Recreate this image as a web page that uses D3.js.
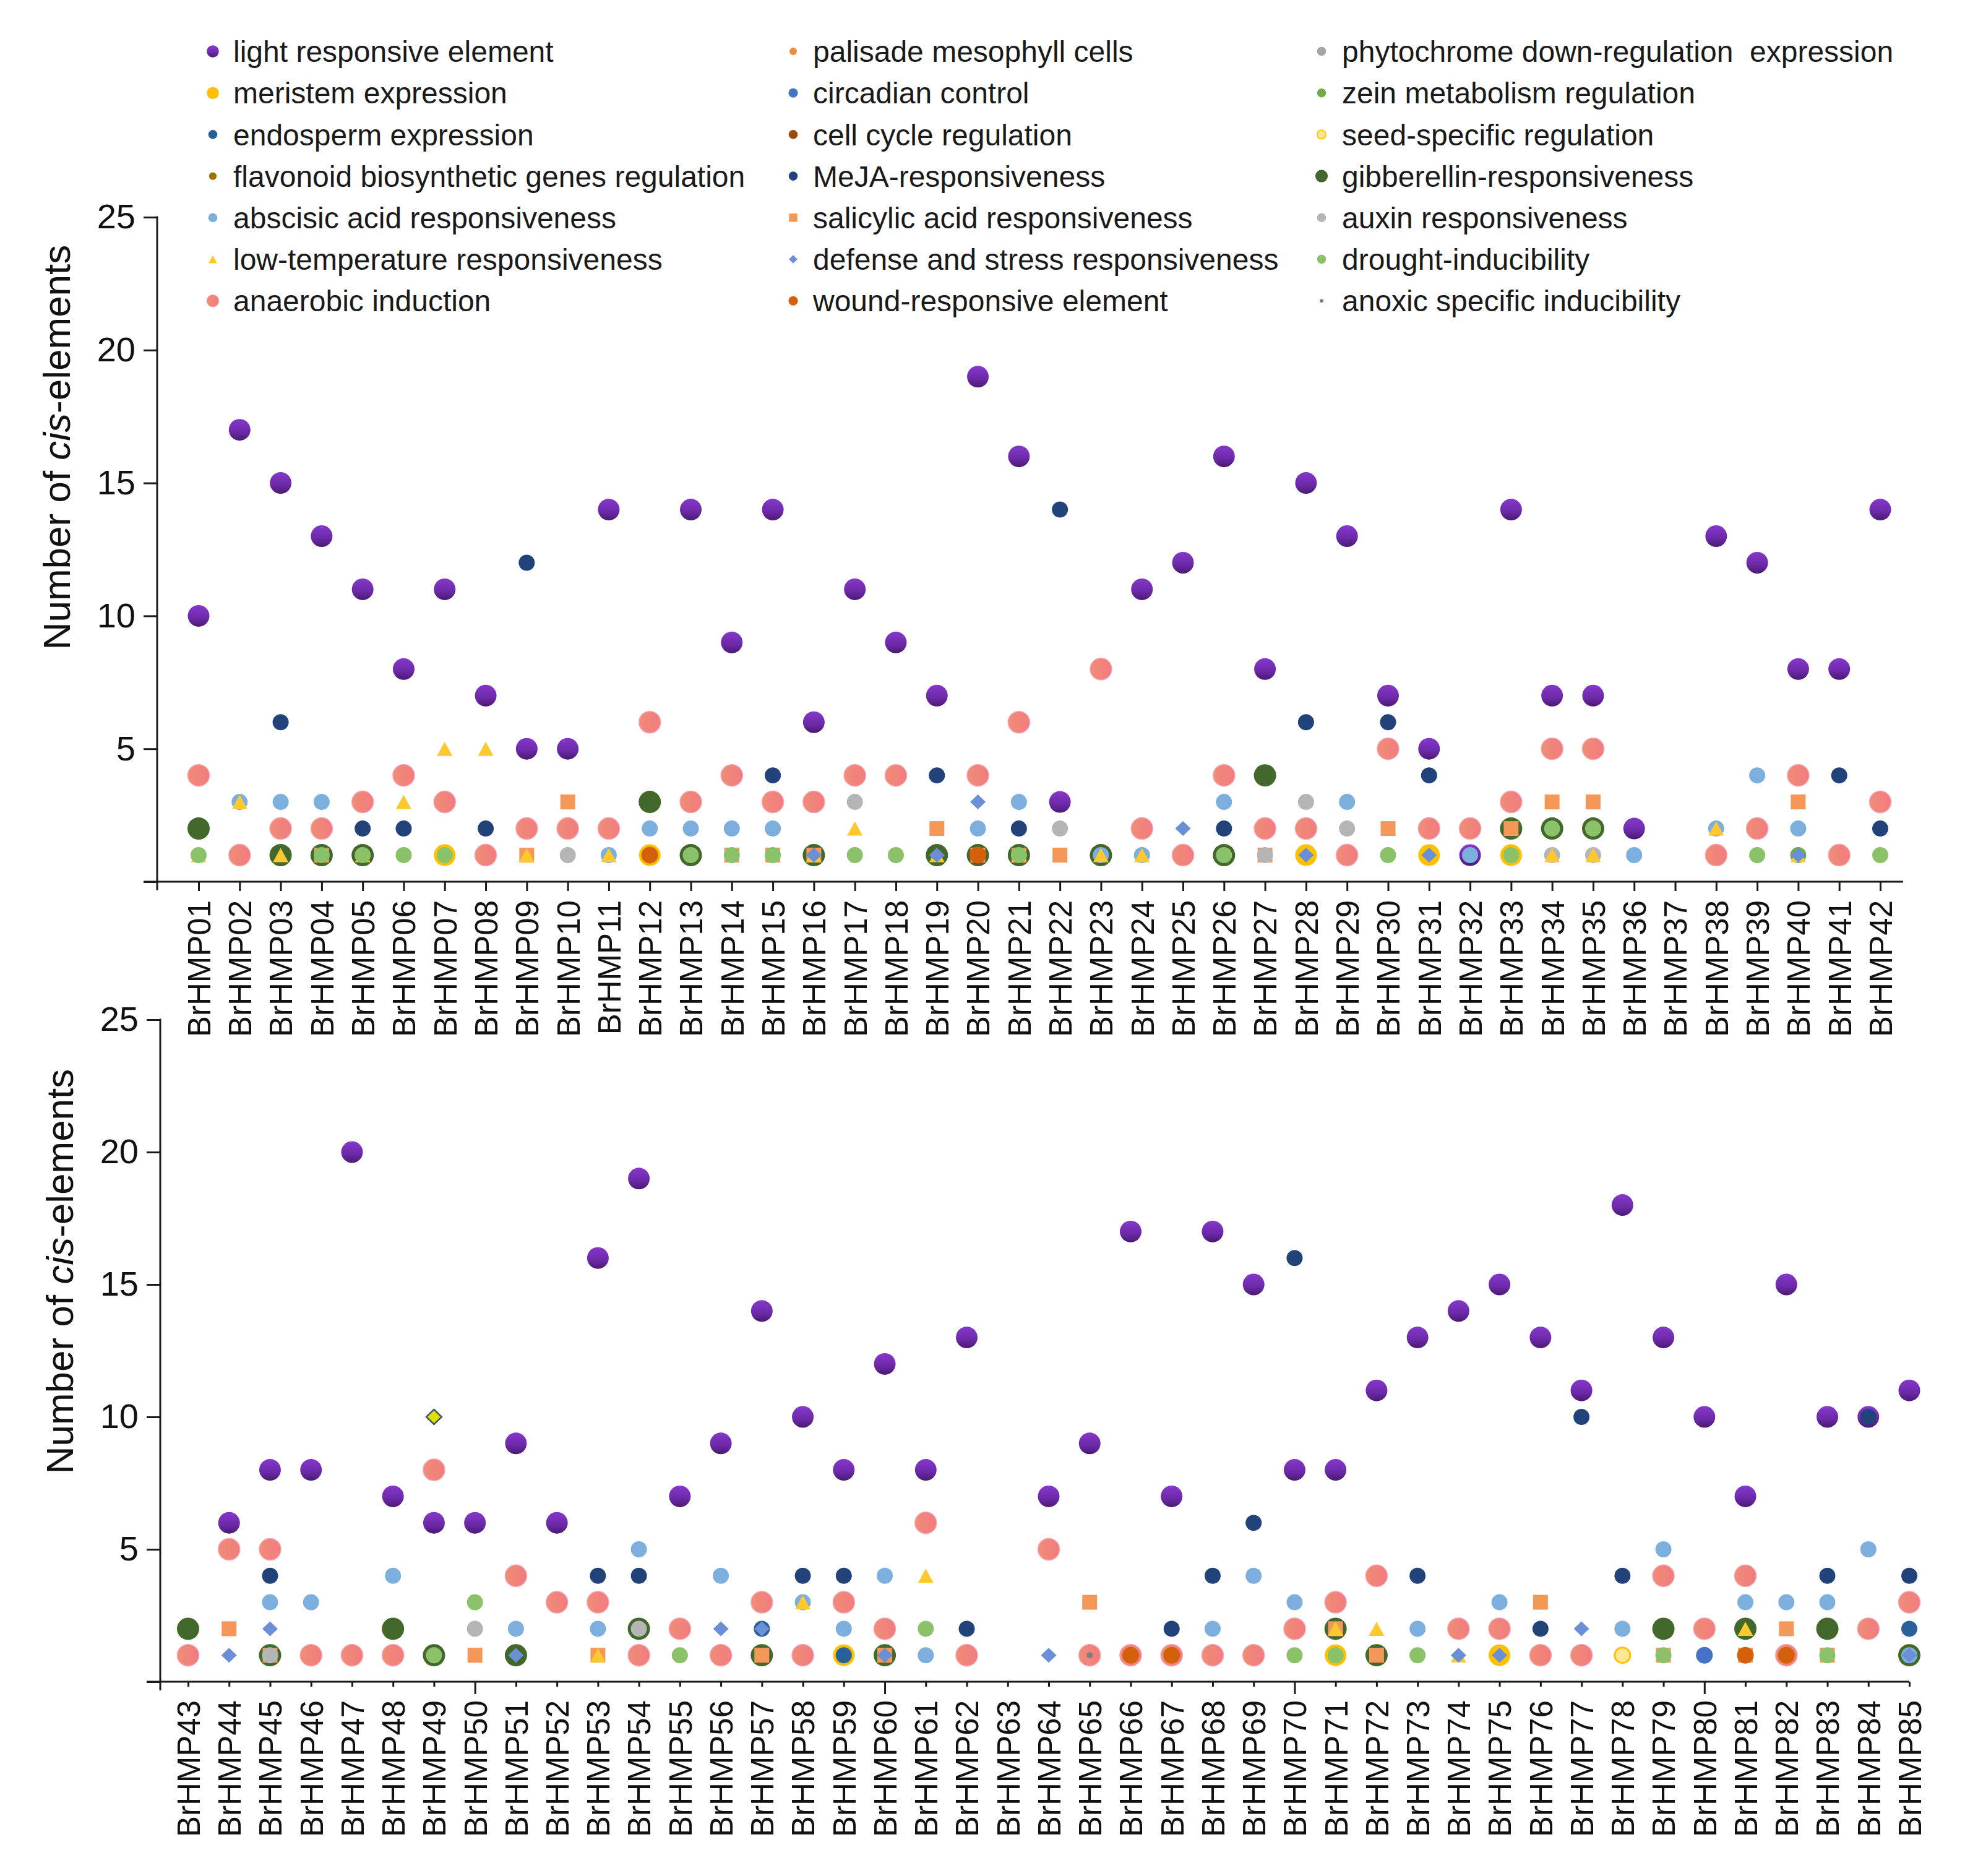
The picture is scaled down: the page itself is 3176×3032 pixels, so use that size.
<!DOCTYPE html>
<html>
<head>
<meta charset="utf-8">
<script src="https://cdn.jsdelivr.net/npm/d3@7/dist/d3.min.js"></script>
<style>
  body { margin: 0; background: #fff; }
  text { font-family: "Liberation Sans", Arial, sans-serif; }
</style>
</head>
<body>
<svg id="chart"></svg>
<script>
const _ = null;

// gene labels, one panel each
const topGenes = ["BrHMP01","BrHMP02","BrHMP03","BrHMP04","BrHMP05","BrHMP06","BrHMP07","BrHMP08","BrHMP09","BrHMP10",
  "BrHMP11","BrHMP12","BrHMP13","BrHMP14","BrHMP15","BrHMP16","BrHMP17","BrHMP18","BrHMP19","BrHMP20",
  "BrHMP21","BrHMP22","BrHMP23","BrHMP24","BrHMP25","BrHMP26","BrHMP27","BrHMP28","BrHMP29","BrHMP30",
  "BrHMP31","BrHMP32","BrHMP33","BrHMP34","BrHMP35","BrHMP36","BrHMP37","BrHMP38","BrHMP39","BrHMP40",
  "BrHMP41","BrHMP42"];
const bottomGenes = ["BrHMP43","BrHMP44","BrHMP45","BrHMP46","BrHMP47","BrHMP48","BrHMP49","BrHMP50",
  "BrHMP51","BrHMP52","BrHMP53","BrHMP54","BrHMP55","BrHMP56","BrHMP57","BrHMP58","BrHMP59","BrHMP60",
  "BrHMP61","BrHMP62","BrHMP63","BrHMP64","BrHMP65","BrHMP66","BrHMP67","BrHMP68","BrHMP69","BrHMP70",
  "BrHMP71","BrHMP72","BrHMP73","BrHMP74","BrHMP75","BrHMP76","BrHMP77","BrHMP78","BrHMP79","BrHMP80",
  "BrHMP81","BrHMP82","BrHMP83","BrHMP84","BrHMP85"];
const yTicks = [0, 5, 10, 15, 20, 25];

// number of cis-elements per gene (BrHMP01 .. BrHMP85), one array per element class
const lightResponsive = [
  10,17,15,13,11,8,11,7,5,5,  14,6,14,9,14,6,11,9,7,19,  16,3,8,11,12,16,8,15,13,7,
  5,1,14,7,7,2,_,13,12,8,  8,14,_,6,8,8,20,7,6,6,  9,6,16,19,7,9,14,10,8,12,
  8,13,_,7,9,17,7,17,15,8,  8,11,13,14,15,13,11,18,13,10,  7,15,10,10,11];
const palisade = [
  _,_,_,_,_,_,_,_,_,_,  _,1,_,_,_,_,_,_,_,_,  _,_,_,_,_,_,_,_,_,_,
  _,_,_,_,_,_,_,_,_,_,  _,_,_,_,_,_,_,_,_,_,  _,_,_,_,_,_,_,_,_,_,
  _,_,_,_,_,_,_,_,_,_,  _,_,_,_,_,_,_,_,_,_,  _,_,_,_,_];
const phytochrome = [
  _,_,_,_,_,_,_,_,_,_,  _,_,_,_,_,_,_,_,_,_,  _,_,_,_,_,_,_,_,_,_,
  _,_,_,_,_,_,_,_,_,_,  _,_,_,_,_,_,_,_,_,_,  _,_,_,_,_,_,_,_,_,_,
  _,_,_,_,_,_,_,_,_,_,  _,_,_,_,_,_,_,_,_,_,  _,_,_,_,_];
const meristem = [
  _,_,_,_,_,_,1,_,_,_,  _,1,_,_,_,_,_,_,_,_,  _,_,_,_,_,_,_,1,_,_,
  1,_,1,_,_,_,_,_,_,_,  _,_,_,_,_,_,_,_,_,_,  _,_,_,_,_,_,_,_,1,_,
  _,_,_,_,_,_,_,_,_,_,  1,_,_,_,1,_,_,_,_,_,  _,_,_,_,_];
const circadian = [
  _,_,_,_,_,_,_,_,_,_,  _,_,_,_,_,_,_,_,_,_,  _,_,_,_,_,_,_,_,_,_,
  _,_,_,_,_,_,_,_,_,_,  _,_,_,_,_,_,_,_,_,_,  _,_,_,_,_,_,_,_,_,_,
  _,_,_,_,_,_,_,_,_,_,  _,_,_,_,_,_,_,_,_,1,  _,_,_,_,_];
const zein = [
  _,_,_,_,_,_,_,_,_,_,  _,_,_,_,_,_,_,_,_,_,  _,_,_,_,_,_,_,_,_,_,
  _,_,_,_,_,_,_,_,_,1,  _,_,_,_,_,_,_,_,_,_,  _,_,_,_,_,_,_,_,_,_,
  _,_,_,_,_,_,_,_,_,_,  _,_,_,_,_,_,_,_,_,_,  _,_,_,_,_];
const endosperm = [
  _,_,_,_,_,_,_,_,_,_,  _,_,_,_,_,_,_,_,_,_,  _,_,_,_,_,_,_,_,_,_,
  _,_,_,_,_,_,_,_,_,_,  _,_,_,_,_,_,_,_,_,_,  _,_,_,_,_,_,2,_,1,_,
  _,_,_,_,_,_,_,_,_,_,  _,_,_,_,_,_,_,_,_,_,  _,_,_,_,2];
const cellCycle = [
  _,_,_,_,_,_,_,_,_,_,  _,_,_,_,_,_,_,_,_,_,  _,_,_,_,_,_,_,_,_,_,
  _,_,_,_,_,_,_,_,_,_,  _,_,_,_,_,_,_,_,_,_,  _,_,_,_,_,_,_,_,_,_,
  _,_,_,_,_,_,_,_,_,_,  _,_,_,_,_,_,_,_,_,_,  _,_,_,_,_];
const seedSpecific = [
  _,_,_,_,_,_,_,_,_,_,  _,_,_,_,_,_,_,_,_,_,  _,_,_,_,_,_,_,_,_,_,
  _,_,_,_,_,_,_,_,_,_,  _,_,_,_,_,_,_,_,_,_,  _,_,_,_,_,_,_,_,_,_,
  _,_,_,_,_,_,_,_,_,_,  _,_,_,_,_,_,_,1,_,_,  _,_,_,_,_];
const flavonoid = [
  _,_,_,_,_,_,_,_,_,_,  _,_,_,_,_,_,_,_,_,_,  _,_,_,_,_,_,_,_,_,_,
  _,_,_,_,_,_,_,_,_,_,  _,_,_,_,_,_,_,_,_,_,  _,_,_,_,_,_,_,_,_,_,
  _,_,_,_,_,_,_,_,_,_,  _,_,_,_,_,_,_,_,_,_,  _,_,_,_,_];
const meja = [
  _,_,6,_,2,2,_,2,12,_,  _,_,_,_,4,_,_,_,4,_,  2,14,_,_,_,2,_,6,_,6,
  4,_,_,_,_,_,_,_,_,_,  4,2,_,_,4,_,_,_,_,_,  _,_,4,4,_,_,_,4,4,_,
  _,2,_,_,_,_,2,4,6,16,  _,_,4,_,_,2,10,4,_,_,  _,_,4,10,4];
const gibberellin = [
  2,_,1,1,1,_,_,_,_,_,  _,3,1,_,_,1,_,_,1,1,  1,_,1,_,_,1,4,_,_,_,
  _,_,2,2,2,_,_,_,_,_,  _,_,2,_,1,_,_,2,1,_,  1,_,_,2,_,_,1,_,_,1,
  _,_,_,_,_,_,_,_,_,_,  2,1,_,_,_,_,_,_,2,_,  2,_,2,_,1];
const abscisic = [
  _,3,3,3,_,_,_,_,_,_,  1,2,2,2,2,_,_,_,_,2,  3,_,1,1,_,3,_,_,3,_,
  _,1,_,_,_,1,_,2,4,2,  _,_,_,_,3,3,_,4,_,_,  2,_,2,5,_,4,_,3,2,4,
  1,_,_,_,_,_,_,2,4,3,  _,_,2,_,3,_,_,2,5,_,  3,3,3,5,1];
const salicylic = [
  _,_,_,1,_,_,_,_,1,3,  _,_,_,1,1,1,_,_,2,1,  1,1,_,_,_,_,1,_,_,2,
  _,_,2,3,3,_,_,_,_,3,  _,_,_,2,1,_,_,_,_,1,  _,_,1,_,_,_,1,_,_,1,
  _,_,_,_,3,_,_,_,_,_,  2,1,_,_,_,3,_,_,1,_,  1,2,1,_,_];
const auxin = [
  _,_,_,_,_,_,_,_,_,1,  _,_,_,_,_,_,3,_,_,_,  _,2,_,_,_,_,1,3,2,_,
  _,_,_,1,1,_,_,_,_,_,  _,_,_,_,1,_,_,_,_,2,  _,_,_,2,_,_,_,_,_,_,
  _,_,_,_,_,_,_,_,_,_,  _,_,_,_,_,_,_,_,_,_,  _,_,_,_,_];
const lowTemp = [
  1,3,1,_,1,3,5,5,1,_,  1,_,_,_,_,1,2,_,1,_,  1,_,1,1,_,_,_,_,_,_,
  _,_,_,1,1,_,_,2,_,1,  _,_,_,_,_,_,_,_,_,_,  _,_,1,_,_,_,_,3,_,_,
  4,_,_,_,_,_,_,_,_,_,  2,2,_,1,_,_,_,_,_,_,  2,_,_,_,_];
const defense = [
  _,_,_,_,_,_,_,_,_,_,  _,_,_,_,_,1,_,_,1,3,  _,_,_,_,2,_,_,1,_,_,
  1,_,_,_,_,_,_,_,_,1,  _,_,_,1,2,_,_,_,_,_,  1,_,_,_,_,2,2,_,_,1,
  _,_,_,1,_,_,_,_,_,_,  _,_,_,1,1,_,2,_,_,_,  _,_,_,_,1];
const drought = [
  1,_,_,1,1,1,1,_,_,_,  _,_,1,1,1,_,1,1,_,_,  1,_,_,_,_,1,_,_,_,1,
  _,_,1,2,2,_,_,_,1,_,  _,1,_,_,_,_,_,_,1,3,  _,_,_,_,1,_,_,_,_,_,
  2,_,_,_,_,_,_,_,_,1,  1,_,1,_,_,_,_,_,1,_,  _,_,1,_,_];
const anaerobic = [
  4,1,2,2,3,4,3,1,2,2,  2,6,3,4,3,3,4,4,_,4,  6,_,8,2,1,4,2,2,1,5,
  2,2,3,5,5,_,_,1,2,4,  1,3,1,5,5,1,1,1,8,_,  4,3,3,1,2,1,3,1,3,2,
  6,1,_,5,1,1,1,1,1,2,  3,4,_,2,2,1,1,_,4,2,  4,1,_,2,3];
const wound = [
  _,_,_,_,_,_,_,_,_,_,  _,1,_,_,_,_,_,_,_,1,  _,_,_,_,_,_,_,_,_,_,
  _,_,_,_,_,_,_,_,_,_,  _,_,_,_,_,_,_,_,_,_,  _,_,_,_,_,_,_,_,_,_,
  _,_,_,_,_,1,1,_,_,_,  _,_,_,_,_,_,_,_,_,_,  1,1,_,_,_];
const anoxic = [
  _,_,_,_,_,_,_,_,_,_,  _,_,_,_,_,_,_,_,_,_,  _,_,_,_,_,_,_,_,_,_,
  _,_,_,_,_,_,_,_,_,_,  _,_,_,_,_,_,_,_,_,_,  _,_,_,_,_,_,_,_,_,_,
  _,_,_,_,1,_,_,_,_,_,  _,_,_,_,_,_,_,_,_,_,  _,_,_,_,_];
const unlabeledDiamond = [
  _,_,_,_,_,_,_,_,_,_,  _,_,_,_,_,_,_,_,_,_,  _,_,_,_,_,_,_,_,_,_,
  _,_,_,_,_,_,_,_,_,_,  _,_,_,_,_,_,_,_,10,_,  _,_,_,_,_,_,_,_,_,_,
  _,_,_,_,_,_,_,_,_,_,  _,_,_,_,_,_,_,_,_,_,  _,_,_,_,_];

// series in legend order (3 columns, row by row); later ones are drawn on top
const series = [
  { name: "light responsive element", values: lightResponsive, shape: "circle", r: 17.5, fill: "url(#purpleGrad)" },
  { name: "palisade mesophyll cells", values: palisade, shape: "circle", r: 15.5, fill: "#ef8a45", legendR: 6 },
  { name: "phytochrome down-regulation  expression", values: phytochrome, shape: "circle", r: 13, fill: "#a5a5a5" },
  { name: "meristem expression", values: meristem, shape: "circle", r: 17.5, fill: "#ffc000" },
  { name: "circadian control", values: circadian, shape: "circle", r: 13.5, fill: "#4472c4" },
  { name: "zein metabolism regulation", values: zein, shape: "circle", r: 13, fill: "#70ad47" },
  { name: "endosperm expression", values: endosperm, shape: "circle", r: 13, fill: "#2a6099" },
  { name: "cell cycle regulation", values: cellCycle, shape: "circle", r: 13, fill: "#9e480e" },
  { name: "seed-specific regulation", values: seedSpecific, shape: "circle", r: 12.5, fill: "#ffe596", stroke: "#ffc000", sw: 3 },
  { name: "flavonoid biosynthetic genes regulation", values: flavonoid, shape: "circle", r: 11, fill: "#997300" },
  { name: "MeJA-responsiveness", values: meja, shape: "circle", r: 13, fill: "#22427a" },
  { name: "gibberellin-responsiveness", values: gibberellin, shape: "circle", r: 18, fill: "#43682b" },
  { name: "abscisic acid responsiveness", values: abscisic, shape: "circle", r: 13, fill: "#7cafdd" },
  { name: "salicylic acid responsiveness", values: salicylic, shape: "square", r: 12, fill: "#f4985a" },
  { name: "auxin responsiveness", values: auxin, shape: "circle", r: 13, fill: "#b5b5b5" },
  { name: "low-temperature responsiveness", values: lowTemp, shape: "triangle", r: 12.5, fill: "#ffc82c" },
  { name: "defense and stress responsiveness", values: defense, shape: "diamond", r: 12.5, fill: "#6a8fd6" },
  { name: "drought-inducibility", values: drought, shape: "circle", r: 13, fill: "#8bc168" },
  { name: "anaerobic induction", values: anaerobic, shape: "circle", r: 17.5, fill: "url(#salmonGrad)", stroke: "#f6a3b3", sw: 1.5 },
  { name: "wound-responsive element", values: wound, shape: "circle", r: 13.5, fill: "#d4600c" },
  { name: "anoxic specific inducibility", values: anoxic, shape: "circle", r: 5, fill: "#808080", legendR: 3 },
  { name: null, values: unlabeledDiamond, shape: "diamond", r: 12.5, fill: "#e0e000", stroke: "#44546a", sw: 2.5 }
];

const W = 3176, H = 3032;
const svg = d3.select("#chart").attr("width", W).attr("height", H);
svg.append("rect").attr("width", W).attr("height", H).attr("fill", "#fff");

const defs = svg.append("defs");
const pg = defs.append("linearGradient").attr("id", "purpleGrad")
  .attr("x1", 0).attr("y1", 0).attr("x2", 0).attr("y2", 1);
pg.append("stop").attr("offset", "0%").attr("stop-color", "#8638cb");
pg.append("stop").attr("offset", "60%").attr("stop-color", "#6c29a8");
pg.append("stop").attr("offset", "100%").attr("stop-color", "#4a1a70");
const sg = defs.append("linearGradient").attr("id", "salmonGrad")
  .attr("x1", 0).attr("y1", 0).attr("x2", 1).attr("y2", 0);
sg.append("stop").attr("offset", "0%").attr("stop-color", "#ef8d77");
sg.append("stop").attr("offset", "100%").attr("stop-color", "#f27b7e");

// marker outline for a given shape and half size
function markerPath(shape, r) {
  const p = d3.path();
  if (shape === "circle") {
    p.arc(0, 0, r, 0, 2 * Math.PI);
  } else if (shape === "square") {
    p.rect(-r, -r, 2 * r, 2 * r);
  } else if (shape === "triangle") {
    p.moveTo(0, -r * 0.92); p.lineTo(r, r * 0.92); p.lineTo(-r, r * 0.92); p.closePath();
  } else if (shape === "diamond") {
    p.moveTo(0, -r * 0.96); p.lineTo(r, 0); p.lineTo(0, r * 0.96); p.lineTo(-r, 0); p.closePath();
  }
  return p.toString();
}

const panels = [
  { genes: topGenes, offset: 0, left: 254, first: 321, last: 3039, lineEnd: 3076,
    top: 351, bottom: 1425, tick: 15, longTick: 15, titleX: 91, titleY: 723 },
  { genes: bottomGenes, offset: 42, left: 259, first: 304, last: 3086, lineEnd: 3086,
    top: 1648, bottom: 2718, tick: 8, longTick: 20, titleX: 96, titleY: 2055 }
];

panels.forEach(p => {
  p.x = d3.scalePoint().domain(p.genes).range([p.first, p.last]);
  p.y = d3.scaleLinear().domain([0, 25]).range([p.bottom, p.top]);

  // y axis
  svg.append("g")
    .attr("transform", `translate(${p.left},0)`)
    .call(d3.axisLeft(p.y).tickValues(yTicks).tickSize(22).tickPadding(13)
      .tickFormat(d => d === 0 ? "" : d))
    .call(a => a.select(".domain").remove())
    .call(a => a.selectAll("line").attr("stroke", "#1a1a1a").attr("stroke-width", 3))
    .call(a => a.selectAll("text").attr("fill", "#111")
      .style("font-family", "'Liberation Sans', Arial, sans-serif").style("font-size", "56px"));

  svg.append("line")
    .attr("x1", p.left).attr("x2", p.left)
    .attr("y1", p.top - 1.5).attr("y2", p.bottom + 14)
    .attr("stroke", "#1a1a1a").attr("stroke-width", 3);

  // x axis
  svg.append("line")
    .attr("x1", p.left - 22).attr("x2", p.lineEnd)
    .attr("y1", p.bottom).attr("y2", p.bottom)
    .attr("stroke", "#1a1a1a").attr("stroke-width", 3);

  svg.append("g")
    .attr("transform", `translate(0,${p.bottom})`)
    .call(d3.axisBottom(p.x).tickSize(p.tick).tickPadding(0))
    .call(a => a.select(".domain").remove())
    .call(a => a.selectAll("line").attr("stroke", "#1a1a1a").attr("stroke-width", 3)
      .filter(d => +d.slice(5) % 10 === 0).attr("y2", p.longTick))
    .call(a => a.selectAll("text")
      .attr("transform", "rotate(-90)")
      .attr("x", -30).attr("y", 0).attr("dy", "0.36em")
      .attr("text-anchor", "end").attr("fill", "#111")
      .style("font-family", "'Liberation Sans', Arial, sans-serif").style("font-size", "51px"));

  // y axis title
  const title = svg.append("text")
    .attr("transform", `translate(${p.titleX},${p.titleY}) rotate(-90)`)
    .attr("dy", "0.36em")
    .attr("text-anchor", "middle")
    .attr("fill", "#111")
    .style("font-size", "62px");
  title.append("tspan").text("Number of ");
  title.append("tspan").style("font-style", "italic").text("cis");
  title.append("tspan").text("-elements");
});

// markers, series by series
series.forEach(s => {
  const layer = svg.append("g");
  panels.forEach(p => {
    const pts = p.genes
      .map((gene, i) => ({ gene, v: s.values[p.offset + i] }))
      .filter(d => d.v !== null);
    layer.selectAll(null)
      .data(pts)
      .enter().append("path")
      .attr("transform", d => `translate(${p.x(d.gene)},${p.y(d.v)})`)
      .attr("d", markerPath(s.shape, s.r))
      .attr("fill", s.fill)
      .attr("stroke", s.stroke || "none")
      .attr("stroke-width", s.sw || 0);
  });
});

// legend
const legendMarkerX = [344, 1282, 2136];
const legendTextX = [377, 1314, 2169];
const legendTop = 83, legendRow = 67.2;

const legend = svg.append("g");
series.filter(s => s.name).forEach((s, i) => {
  const col = i % 3, row = Math.floor(i / 3);
  const yy = legendTop + row * legendRow;
  legend.append("path")
    .attr("transform", `translate(${legendMarkerX[col]},${yy})`)
    .attr("d", markerPath(s.shape, s.legendR || s.r * 0.56))
    .attr("fill", s.fill)
    .attr("stroke", s.stroke || "none")
    .attr("stroke-width", (s.sw || 0) * 0.6);
  legend.append("text")
    .attr("x", legendTextX[col]).attr("y", yy)
    .attr("dy", "0.36em")
    .attr("fill", "#1a1a1a")
    .style("font-size", "48px")
    .style("white-space", "pre")
    .text(s.name);
});
</script>
</body>
</html>
